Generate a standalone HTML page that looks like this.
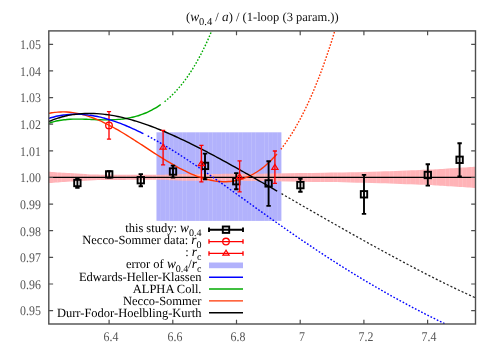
<!DOCTYPE html>
<html><head><meta charset="utf-8"><title>plot</title>
<style>
html,body{margin:0;padding:0;background:#fff;}
body{width:498px;height:349px;position:relative;overflow:hidden;font-family:"Liberation Serif",serif;}
.tx{position:absolute;left:0;top:0;width:498px;height:349px;will-change:transform;text-rendering:geometricPrecision;}
.yl{position:absolute;left:0;width:40.9px;text-align:right;font-size:13.2px;line-height:14px;color:#555;transform:matrix(0.9,0.0004,0,1,0,0);transform-origin:100% 50%;}
.xl{position:absolute;top:329.7px;width:40px;text-align:center;font-size:13.2px;line-height:14px;color:#555;transform:matrix(0.9,0.0004,0,1,0,0);transform-origin:50% 50%;}
.lg{position:absolute;left:0;width:201.5px;text-align:right;font-size:12.5px;line-height:14px;color:#000;white-space:nowrap;transform:matrix(1,0.0003,0,1,0,0);transform-origin:100% 50%;}
.lg sub,.ti sub{font-size:10px;vertical-align:baseline;position:relative;top:3.5px;}
.lg i,.ti i{font-size:13.4px;}
.ti sub{font-size:10.5px;}
.ti{position:absolute;left:186.3px;top:9.3px;font-size:12.5px;line-height:16px;color:#111;white-space:nowrap;transform:matrix(1,0.0003,0,1,0,0);transform-origin:0% 50%;}
</style></head><body>
<svg width="498" height="349" viewBox="0 0 498 349" style="position:absolute;left:0;top:0">
<defs><clipPath id="cp"><rect x="48.8" y="30.9" width="426.7" height="293.1"/></clipPath></defs>
<rect width="498" height="349" fill="#fff"/>
<g clip-path="url(#cp)">
<rect x="156.4" y="132.3" width="125.0" height="88.6" fill="#b2b2fc"/>
<path d="M48.80,171.70 C51.33,171.88 59.30,172.51 64.00,172.80 C68.70,173.09 72.00,173.16 77.00,173.45 C82.00,173.74 88.83,174.34 94.00,174.55 C99.17,174.76 102.83,174.69 108.00,174.73 C113.17,174.77 117.33,174.78 125.00,174.80 C132.67,174.82 146.50,174.89 154.00,174.85 C161.50,174.81 164.33,174.68 170.00,174.55 C175.67,174.42 180.50,174.16 188.00,174.05 C195.50,173.94 204.67,173.95 215.00,173.90 C225.33,173.85 240.00,173.82 250.00,173.75 C260.00,173.68 266.67,173.62 275.00,173.50 C283.33,173.38 291.67,173.17 300.00,173.05 C308.33,172.92 316.67,172.88 325.00,172.75 C333.33,172.62 340.83,172.52 350.00,172.30 C359.17,172.07 368.33,171.80 380.00,171.40 C391.67,171.00 410.67,170.27 420.00,169.90 C429.33,169.53 426.75,169.74 436.00,169.20 C445.25,168.66 468.92,167.07 475.50,166.65 L475.50,188.05 C468.92,187.62 445.25,186.04 436.00,185.50 C426.75,184.96 429.33,185.17 420.00,184.80 C410.67,184.43 391.67,183.70 380.00,183.30 C368.33,182.90 359.17,182.62 350.00,182.40 C340.83,182.18 333.33,182.07 325.00,181.95 C316.67,181.82 308.33,181.78 300.00,181.65 C291.67,181.53 283.33,181.32 275.00,181.20 C266.67,181.08 260.00,181.02 250.00,180.95 C240.00,180.88 225.33,180.85 215.00,180.80 C204.67,180.75 195.50,180.76 188.00,180.65 C180.50,180.54 175.67,180.28 170.00,180.15 C164.33,180.02 161.50,179.89 154.00,179.85 C146.50,179.81 132.67,179.88 125.00,179.90 C117.33,179.92 113.17,179.93 108.00,179.97 C102.83,180.01 99.17,179.94 94.00,180.15 C88.83,180.36 82.00,180.96 77.00,181.25 C72.00,181.54 68.70,181.61 64.00,181.90 C59.30,182.19 51.33,182.82 48.80,183.00 Z" fill="#ffb0b4" fill-opacity="0.96"/>
<path d="M53.5,172.01 V182.69 " fill="none" stroke="#fff" stroke-opacity="0.054" stroke-width="1"/>
<path d="M57.5,172.32 V182.38 " fill="none" stroke="#fff" stroke-opacity="0.134" stroke-width="1"/>
<path d="M61.5,172.64 V182.06 " fill="none" stroke="#fff" stroke-opacity="0.108" stroke-width="1"/>
<path d="M66.5,172.90 V181.80 " fill="none" stroke="#fff" stroke-opacity="0.021" stroke-width="1"/>
<path d="M70.5,173.12 V181.58 " fill="none" stroke="#fff" stroke-opacity="0.125" stroke-width="1"/>
<path d="M74.5,173.33 V181.37 " fill="none" stroke="#fff" stroke-opacity="0.123" stroke-width="1"/>
<path d="M83.5,173.86 V180.84 " fill="none" stroke="#fff" stroke-opacity="0.111" stroke-width="1"/>
<path d="M87.5,174.14 V180.56 " fill="none" stroke="#fff" stroke-opacity="0.133" stroke-width="1"/>
<path d="M91.5,174.41 V180.29 " fill="none" stroke="#fff" stroke-opacity="0.049" stroke-width="1"/>
<path d="M96.5,174.58 V180.12 " fill="none" stroke="#fff" stroke-opacity="0.092" stroke-width="1"/>
<path d="M100.5,174.63 V180.07 " fill="none" stroke="#fff" stroke-opacity="0.137" stroke-width="1"/>
<path d="M104.5,174.69 V180.01 " fill="none" stroke="#fff" stroke-opacity="0.077" stroke-width="1"/>
<path d="M109.5,174.73 V179.97 " fill="none" stroke="#fff" stroke-opacity="0.067" stroke-width="1"/>
<path d="M113.5,174.75 V179.95 " fill="none" stroke="#fff" stroke-opacity="0.136" stroke-width="1"/>
<path d="M117.5,174.77 V179.93 " fill="none" stroke="#fff" stroke-opacity="0.100" stroke-width="1"/>
<path d="M122.5,174.79 V179.91 " fill="none" stroke="#fff" stroke-opacity="0.037" stroke-width="1"/>
<path d="M126.5,174.80 V179.90 " fill="none" stroke="#fff" stroke-opacity="0.130" stroke-width="1"/>
<path d="M130.5,174.81 V179.89 " fill="none" stroke="#fff" stroke-opacity="0.117" stroke-width="1"/>
<path d="M139.5,174.82 V179.88 " fill="none" stroke="#fff" stroke-opacity="0.118" stroke-width="1"/>
<path d="M143.5,174.83 V179.87 " fill="none" stroke="#fff" stroke-opacity="0.129" stroke-width="1"/>
<path d="M147.5,174.84 V179.86 " fill="none" stroke="#fff" stroke-opacity="0.035" stroke-width="1"/>
<path d="M152.5,174.85 V179.85 " fill="none" stroke="#fff" stroke-opacity="0.101" stroke-width="1"/>
<path d="M156.5,174.80 V179.90 M156.5,132.30 V220.90 " fill="none" stroke="#fff" stroke-opacity="0.136" stroke-width="1"/>
<path d="M160.5,174.72 V179.98 M160.5,132.30 V220.90 " fill="none" stroke="#fff" stroke-opacity="0.065" stroke-width="1"/>
<path d="M165.5,174.64 V180.06 M165.5,132.30 V220.90 " fill="none" stroke="#fff" stroke-opacity="0.079" stroke-width="1"/>
<path d="M169.5,174.56 V180.14 M169.5,132.30 V220.90 " fill="none" stroke="#fff" stroke-opacity="0.137" stroke-width="1"/>
<path d="M173.5,174.44 V180.26 M173.5,132.30 V220.90 " fill="none" stroke="#fff" stroke-opacity="0.090" stroke-width="1"/>
<path d="M178.5,174.32 V180.38 M178.5,132.30 V220.90 " fill="none" stroke="#fff" stroke-opacity="0.051" stroke-width="1"/>
<path d="M182.5,174.21 V180.49 M182.5,132.30 V220.90 " fill="none" stroke="#fff" stroke-opacity="0.133" stroke-width="1"/>
<path d="M186.5,174.09 V180.61 M186.5,132.30 V220.90 " fill="none" stroke="#fff" stroke-opacity="0.110" stroke-width="1"/>
<path d="M195.5,174.01 V180.69 M195.5,132.30 V220.90 " fill="none" stroke="#fff" stroke-opacity="0.124" stroke-width="1"/>
<path d="M199.5,173.99 V180.71 M199.5,132.30 V220.90 " fill="none" stroke="#fff" stroke-opacity="0.125" stroke-width="1"/>
<path d="M208.5,173.94 V180.76 M208.5,132.30 V220.90 " fill="none" stroke="#fff" stroke-opacity="0.109" stroke-width="1"/>
<path d="M212.5,173.91 V180.79 M212.5,132.30 V220.90 " fill="none" stroke="#fff" stroke-opacity="0.134" stroke-width="1"/>
<path d="M216.5,173.89 V180.81 M216.5,132.30 V220.90 " fill="none" stroke="#fff" stroke-opacity="0.052" stroke-width="1"/>
<path d="M221.5,173.87 V180.83 M221.5,132.30 V220.90 " fill="none" stroke="#fff" stroke-opacity="0.089" stroke-width="1"/>
<path d="M225.5,173.85 V180.85 M225.5,132.30 V220.90 " fill="none" stroke="#fff" stroke-opacity="0.137" stroke-width="1"/>
<path d="M229.5,173.84 V180.86 M229.5,132.30 V220.90 " fill="none" stroke="#fff" stroke-opacity="0.080" stroke-width="1"/>
<path d="M234.5,173.82 V180.88 M234.5,132.30 V220.90 " fill="none" stroke="#fff" stroke-opacity="0.064" stroke-width="1"/>
<path d="M238.5,173.80 V180.90 M238.5,132.30 V220.90 " fill="none" stroke="#fff" stroke-opacity="0.136" stroke-width="1"/>
<path d="M242.5,173.78 V180.92 M242.5,132.30 V220.90 " fill="none" stroke="#fff" stroke-opacity="0.102" stroke-width="1"/>
<path d="M247.5,173.76 V180.94 M247.5,132.30 V220.90 " fill="none" stroke="#fff" stroke-opacity="0.033" stroke-width="1"/>
<path d="M251.5,173.74 V180.96 M251.5,132.30 V220.90 " fill="none" stroke="#fff" stroke-opacity="0.129" stroke-width="1"/>
<path d="M255.5,173.69 V181.01 M255.5,132.30 V220.90 " fill="none" stroke="#fff" stroke-opacity="0.119" stroke-width="1"/>
<path d="M264.5,173.61 V181.09 M264.5,132.30 V220.90 " fill="none" stroke="#fff" stroke-opacity="0.117" stroke-width="1"/>
<path d="M268.5,173.56 V181.14 M268.5,132.30 V220.90 " fill="none" stroke="#fff" stroke-opacity="0.130" stroke-width="1"/>
<path d="M272.5,173.52 V181.18 M272.5,132.30 V220.90 " fill="none" stroke="#fff" stroke-opacity="0.038" stroke-width="1"/>
<path d="M277.5,173.46 V181.24 M277.5,132.30 V220.90 " fill="none" stroke="#fff" stroke-opacity="0.099" stroke-width="1"/>
<path d="M281.5,173.38 V181.32 " fill="none" stroke="#fff" stroke-opacity="0.136" stroke-width="1"/>
<path d="M285.5,173.30 V181.40 " fill="none" stroke="#fff" stroke-opacity="0.068" stroke-width="1"/>
<path d="M290.5,173.23 V181.47 " fill="none" stroke="#fff" stroke-opacity="0.076" stroke-width="1"/>
<path d="M294.5,173.15 V181.55 " fill="none" stroke="#fff" stroke-opacity="0.137" stroke-width="1"/>
<path d="M298.5,173.07 V181.63 " fill="none" stroke="#fff" stroke-opacity="0.093" stroke-width="1"/>
<path d="M303.5,173.01 V181.69 " fill="none" stroke="#fff" stroke-opacity="0.048" stroke-width="1"/>
<path d="M307.5,172.96 V181.74 " fill="none" stroke="#fff" stroke-opacity="0.133" stroke-width="1"/>
<path d="M311.5,172.91 V181.79 " fill="none" stroke="#fff" stroke-opacity="0.112" stroke-width="1"/>
<path d="M320.5,172.81 V181.89 " fill="none" stroke="#fff" stroke-opacity="0.123" stroke-width="1"/>
<path d="M324.5,172.75 V181.95 " fill="none" stroke="#fff" stroke-opacity="0.126" stroke-width="1"/>
<path d="M328.5,172.68 V182.02 " fill="none" stroke="#fff" stroke-opacity="0.023" stroke-width="1"/>
<path d="M333.5,172.60 V182.10 " fill="none" stroke="#fff" stroke-opacity="0.108" stroke-width="1"/>
<path d="M337.5,172.52 V182.18 " fill="none" stroke="#fff" stroke-opacity="0.134" stroke-width="1"/>
<path d="M341.5,172.45 V182.25 " fill="none" stroke="#fff" stroke-opacity="0.055" stroke-width="1"/>
<path d="M346.5,172.37 V182.33 " fill="none" stroke="#fff" stroke-opacity="0.087" stroke-width="1"/>
<path d="M350.5,172.28 V182.42 " fill="none" stroke="#fff" stroke-opacity="0.137" stroke-width="1"/>
<path d="M354.5,172.16 V182.54 " fill="none" stroke="#fff" stroke-opacity="0.082" stroke-width="1"/>
<path d="M359.5,172.03 V182.67 " fill="none" stroke="#fff" stroke-opacity="0.061" stroke-width="1"/>
<path d="M363.5,171.90 V182.80 " fill="none" stroke="#fff" stroke-opacity="0.135" stroke-width="1"/>
<path d="M367.5,171.77 V182.93 " fill="none" stroke="#fff" stroke-opacity="0.104" stroke-width="1"/>
<path d="M372.5,171.64 V183.06 " fill="none" stroke="#fff" stroke-opacity="0.030" stroke-width="1"/>
<path d="M376.5,171.51 V183.19 " fill="none" stroke="#fff" stroke-opacity="0.128" stroke-width="1"/>
<path d="M380.5,171.37 V183.33 " fill="none" stroke="#fff" stroke-opacity="0.120" stroke-width="1"/>
<path d="M389.5,171.05 V183.65 " fill="none" stroke="#fff" stroke-opacity="0.115" stroke-width="1"/>
<path d="M393.5,170.89 V183.81 " fill="none" stroke="#fff" stroke-opacity="0.131" stroke-width="1"/>
<path d="M397.5,170.73 V183.97 " fill="none" stroke="#fff" stroke-opacity="0.041" stroke-width="1"/>
<path d="M402.5,170.57 V184.13 " fill="none" stroke="#fff" stroke-opacity="0.097" stroke-width="1"/>
<path d="M406.5,170.40 V184.30 " fill="none" stroke="#fff" stroke-opacity="0.137" stroke-width="1"/>
<path d="M410.5,170.24 V184.46 " fill="none" stroke="#fff" stroke-opacity="0.071" stroke-width="1"/>
<path d="M415.5,170.08 V184.62 " fill="none" stroke="#fff" stroke-opacity="0.073" stroke-width="1"/>
<path d="M419.5,169.92 V184.78 " fill="none" stroke="#fff" stroke-opacity="0.137" stroke-width="1"/>
<path d="M423.5,169.73 V184.97 " fill="none" stroke="#fff" stroke-opacity="0.095" stroke-width="1"/>
<path d="M428.5,169.55 V185.15 " fill="none" stroke="#fff" stroke-opacity="0.045" stroke-width="1"/>
<path d="M432.5,169.36 V185.34 " fill="none" stroke="#fff" stroke-opacity="0.132" stroke-width="1"/>
<path d="M436.5,169.15 V185.55 " fill="none" stroke="#fff" stroke-opacity="0.113" stroke-width="1"/>
<path d="M445.5,168.60 V186.10 " fill="none" stroke="#fff" stroke-opacity="0.121" stroke-width="1"/>
<path d="M449.5,168.32 V186.38 " fill="none" stroke="#fff" stroke-opacity="0.127" stroke-width="1"/>
<path d="M453.5,168.04 V186.66 " fill="none" stroke="#fff" stroke-opacity="0.026" stroke-width="1"/>
<path d="M458.5,167.76 V186.94 " fill="none" stroke="#fff" stroke-opacity="0.106" stroke-width="1"/>
<path d="M462.5,167.48 V187.22 " fill="none" stroke="#fff" stroke-opacity="0.135" stroke-width="1"/>
<path d="M466.5,167.21 V187.49 " fill="none" stroke="#fff" stroke-opacity="0.058" stroke-width="1"/>
<path d="M471.5,166.93 V187.77 " fill="none" stroke="#fff" stroke-opacity="0.085" stroke-width="1"/>
<line x1="48.8" y1="177.35" x2="475.5" y2="177.35" stroke="#000" stroke-width="1.4"/>
<path d="M109.00,111.60 V139.10 M106.90,111.60 H111.10 M106.90,139.10 H111.10" fill="none" stroke="#ff0000" stroke-width="1.35"/>
<circle cx="109.00" cy="125.40" r="3.30" fill="none" stroke="#ff0000" stroke-width="1.30"/>
<path d="M48.80,123.33 C49.30,123.16 50.82,122.61 51.83,122.29 C52.84,121.97 53.85,121.69 54.85,121.43 C55.86,121.17 56.87,120.95 57.88,120.74 C58.89,120.53 59.90,120.35 60.91,120.19 C61.92,120.03 62.93,119.89 63.94,119.77 C64.94,119.65 65.95,119.55 66.96,119.47 C67.97,119.38 68.98,119.32 69.99,119.26 C71.00,119.21 72.01,119.17 73.02,119.14 C74.03,119.11 75.03,119.10 76.04,119.09 C77.05,119.08 78.06,119.09 79.07,119.10 C80.08,119.11 81.09,119.13 82.10,119.15 C83.11,119.17 84.12,119.20 85.12,119.23 C86.13,119.27 87.14,119.30 88.15,119.34 C89.16,119.38 90.17,119.42 91.18,119.46 C92.19,119.50 93.20,119.54 94.21,119.58 C95.21,119.61 96.22,119.65 97.23,119.68 C98.24,119.72 99.25,119.75 100.26,119.77 C101.27,119.80 102.28,119.82 103.29,119.83 C104.30,119.85 105.30,119.86 106.31,119.86 C107.32,119.86 108.33,119.85 109.34,119.83 C110.35,119.82 111.36,119.79 112.37,119.76 C113.38,119.72 114.39,119.67 115.39,119.61 C116.40,119.56 117.41,119.49 118.42,119.40 C119.43,119.32 120.44,119.22 121.45,119.11 C122.46,119.00 123.47,118.87 124.48,118.73 C125.48,118.59 126.49,118.43 127.50,118.26 C128.51,118.08 129.52,117.89 130.53,117.68 C131.54,117.47 132.55,117.25 133.56,117.00 C134.57,116.75 135.57,116.48 136.58,116.19 C137.59,115.90 138.60,115.60 139.61,115.26 C140.62,114.93 141.63,114.58 142.64,114.20 C143.65,113.82 144.66,113.42 145.66,112.99 C146.67,112.56 147.68,112.11 148.69,111.63 C149.70,111.16 150.71,110.65 151.72,110.12 C152.73,109.58 153.74,109.02 154.75,108.43 C155.75,107.84 156.76,107.22 157.77,106.57 C158.78,105.92 160.30,104.86 160.80,104.52" fill="none" stroke="#00aa00" stroke-width="1.40"/>
<path d="M164.60,101.67 C164.85,101.46 165.61,100.86 166.11,100.44 C166.62,100.03 167.12,99.60 167.62,99.16 C168.13,98.73 168.63,98.28 169.14,97.83 C169.64,97.37 170.15,96.91 170.65,96.44 C171.15,95.96 171.66,95.48 172.16,94.99 C172.67,94.50 173.17,93.99 173.67,93.48 C174.18,92.97 174.68,92.45 175.19,91.91 C175.69,91.38 176.20,90.84 176.70,90.28 C177.20,89.73 177.71,89.16 178.21,88.59 C178.72,88.01 179.22,87.42 179.72,86.83 C180.23,86.23 180.73,85.62 181.24,85.00 C181.74,84.38 182.25,83.75 182.75,83.10 C183.25,82.46 183.76,81.80 184.26,81.14 C184.77,80.47 185.27,79.79 185.78,79.10 C186.28,78.40 186.78,77.70 187.29,76.98 C187.79,76.27 188.30,75.54 188.80,74.79 C189.30,74.05 189.81,73.30 190.31,72.53 C190.82,71.76 191.32,70.98 191.82,70.18 C192.33,69.39 192.83,68.58 193.34,67.75 C193.84,66.93 194.35,66.09 194.85,65.24 C195.35,64.39 195.86,63.53 196.36,62.65 C196.87,61.77 197.37,60.87 197.88,59.96 C198.38,59.05 198.88,58.13 199.39,57.19 C199.89,56.25 200.40,55.29 200.90,54.32 C201.40,53.35 201.91,52.36 202.41,51.36 C202.92,50.35 203.42,49.34 203.93,48.30 C204.43,47.26 204.93,46.21 205.44,45.14 C205.94,44.07 206.45,42.99 206.95,41.88 C207.45,40.78 207.96,39.66 208.46,38.52 C208.97,37.38 209.47,36.22 209.97,35.05 C210.48,33.87 210.98,32.68 211.49,31.47 C211.99,30.26 212.75,28.39 213.00,27.78" fill="none" stroke="#00aa00" stroke-width="1.40" stroke-dasharray="1.6 1.7"/>
<path d="M48.80,113.32 C49.30,113.23 50.80,112.93 51.80,112.77 C52.80,112.61 53.80,112.48 54.81,112.36 C55.81,112.24 56.81,112.15 57.81,112.08 C58.81,112.01 59.81,111.96 60.81,111.93 C61.81,111.91 62.81,111.90 63.81,111.92 C64.81,111.93 65.81,111.97 66.82,112.03 C67.82,112.09 68.82,112.16 69.82,112.26 C70.82,112.36 71.82,112.48 72.82,112.62 C73.82,112.76 74.82,112.92 75.82,113.10 C76.82,113.27 77.83,113.47 78.83,113.69 C79.83,113.90 80.83,114.14 81.83,114.39 C82.83,114.64 83.83,114.91 84.83,115.20 C85.83,115.49 86.83,115.79 87.83,116.11 C88.84,116.43 89.84,116.77 90.84,117.13 C91.84,117.48 92.84,117.85 93.84,118.23 C94.84,118.62 95.84,119.02 96.84,119.43 C97.84,119.85 98.84,120.28 99.84,120.72 C100.85,121.16 101.85,121.62 102.85,122.09 C103.85,122.56 104.85,123.04 105.85,123.53 C106.85,124.03 107.85,124.53 108.85,125.05 C109.85,125.56 110.85,126.09 111.86,126.63 C112.86,127.17 113.86,127.72 114.86,128.27 C115.86,128.83 116.86,129.40 117.86,129.98 C118.86,130.55 119.86,131.14 120.86,131.73 C121.86,132.32 122.86,132.92 123.87,133.52 C124.87,134.13 125.87,134.74 126.87,135.36 C127.87,135.98 128.87,136.60 129.87,137.23 C130.87,137.86 131.87,138.50 132.87,139.14 C133.87,139.77 134.88,140.42 135.88,141.06 C136.88,141.70 137.88,142.35 138.88,143.00 C139.88,143.65 140.88,144.31 141.88,144.96 C142.88,145.61 143.88,146.27 144.88,146.92 C145.89,147.58 146.89,148.23 147.89,148.88 C148.89,149.54 149.89,150.19 150.89,150.84 C151.89,151.49 152.89,152.14 153.89,152.79 C154.89,153.44 155.89,154.08 156.89,154.72 C157.90,155.36 158.90,156.00 159.90,156.63 C160.90,157.27 161.90,157.89 162.90,158.52 C163.90,159.14 164.90,159.76 165.90,160.37 C166.90,160.98 167.90,161.58 168.91,162.18 C169.91,162.77 170.91,163.36 171.91,163.94 C172.91,164.52 173.91,165.10 174.91,165.66 C175.91,166.22 176.91,166.78 177.91,167.32 C178.91,167.86 179.91,168.40 180.92,168.92 C181.92,169.44 182.92,169.95 183.92,170.45 C184.92,170.95 185.92,171.43 186.92,171.91 C187.92,172.38 188.92,172.84 189.92,173.29 C190.92,173.73 191.93,174.17 192.93,174.58 C193.93,175.00 194.93,175.40 195.93,175.79 C196.93,176.17 197.93,176.55 198.93,176.90 C199.93,177.25 200.93,177.59 201.93,177.91 C202.94,178.23 203.94,178.53 204.94,178.81 C205.94,179.09 206.94,179.36 207.94,179.60 C208.94,179.85 209.94,180.07 210.94,180.28 C211.94,180.48 212.94,180.67 213.94,180.83 C214.95,180.99 215.95,181.13 216.95,181.25 C217.95,181.37 218.95,181.47 219.95,181.54 C220.95,181.61 221.95,181.66 222.95,181.69 C223.95,181.71 224.95,181.71 225.96,181.69 C226.96,181.67 227.96,181.62 228.96,181.54 C229.96,181.47 230.96,181.37 231.96,181.24 C232.96,181.11 233.96,180.96 234.96,180.77 C235.96,180.59 236.96,180.38 237.97,180.14 C238.97,179.90 239.97,179.63 240.97,179.33 C241.97,179.03 242.97,178.71 243.97,178.35 C244.97,177.99 245.97,177.60 246.97,177.18 C247.97,176.75 248.98,176.30 249.98,175.81 C250.98,175.33 251.98,174.81 252.98,174.26 C253.98,173.70 254.98,173.12 255.98,172.50 C256.98,171.87 257.98,171.22 258.98,170.53 C259.99,169.84 260.99,169.11 261.99,168.34 C262.99,167.58 263.99,166.78 264.99,165.94 C265.99,165.10 266.99,164.23 267.99,163.31 C268.99,162.39 269.99,161.44 270.99,160.45 C272.00,159.45 273.00,158.42 274.00,157.34 C275.00,156.27 276.50,154.55 277.00,153.99" fill="none" stroke="#ff3300" stroke-width="1.40"/>
<path d="M280.90,149.26 C281.15,148.94 281.89,147.99 282.39,147.34 C282.89,146.68 283.38,146.02 283.88,145.35 C284.37,144.67 284.87,143.99 285.37,143.29 C285.86,142.60 286.36,141.89 286.86,141.17 C287.35,140.45 287.85,139.72 288.35,138.98 C288.84,138.24 289.34,137.49 289.84,136.73 C290.33,135.96 290.83,135.18 291.32,134.40 C291.82,133.61 292.32,132.81 292.81,132.00 C293.31,131.19 293.81,130.36 294.30,129.53 C294.80,128.69 295.30,127.84 295.79,126.98 C296.29,126.12 296.78,125.25 297.28,124.37 C297.78,123.48 298.27,122.58 298.77,121.67 C299.27,120.76 299.76,119.84 300.26,118.91 C300.76,117.97 301.25,117.02 301.75,116.06 C302.25,115.10 302.74,114.13 303.24,113.14 C303.73,112.15 304.23,111.15 304.73,110.14 C305.22,109.13 305.72,108.10 306.22,107.06 C306.71,106.02 307.21,104.97 307.71,103.90 C308.20,102.83 308.70,101.75 309.19,100.66 C309.69,99.56 310.19,98.45 310.68,97.33 C311.18,96.21 311.68,95.07 312.17,93.92 C312.67,92.77 313.17,91.60 313.66,90.42 C314.16,89.24 314.65,88.05 315.15,86.84 C315.65,85.63 316.14,84.41 316.64,83.17 C317.14,81.93 317.63,80.68 318.13,79.41 C318.63,78.15 319.12,76.86 319.62,75.57 C320.12,74.27 320.61,72.96 321.11,71.63 C321.60,70.30 322.10,68.95 322.60,67.59 C323.09,66.24 323.59,64.86 324.09,63.47 C324.58,62.08 325.08,60.67 325.58,59.25 C326.07,57.83 326.57,56.39 327.06,54.93 C327.56,53.48 328.06,52.00 328.55,50.52 C329.05,49.03 329.55,47.52 330.04,46.00 C330.54,44.48 331.04,42.94 331.53,41.39 C332.03,39.83 332.53,38.26 333.02,36.67 C333.52,35.08 334.01,33.48 334.51,31.85 C335.01,30.23 335.75,27.75 336.00,26.93" fill="none" stroke="#ff3300" stroke-width="1.40" stroke-dasharray="1.6 1.6"/>
<path d="M48.80,118.40 C49.29,118.25 50.77,117.78 51.76,117.50 C52.74,117.22 53.73,116.96 54.71,116.71 C55.70,116.47 56.68,116.25 57.67,116.04 C58.65,115.84 59.64,115.65 60.62,115.48 C61.61,115.31 62.60,115.16 63.58,115.03 C64.57,114.89 65.55,114.78 66.54,114.68 C67.52,114.58 68.51,114.50 69.49,114.43 C70.48,114.36 71.46,114.31 72.45,114.28 C73.44,114.25 74.42,114.23 75.41,114.23 C76.39,114.22 77.38,114.24 78.36,114.27 C79.35,114.29 80.33,114.34 81.32,114.39 C82.30,114.45 83.29,114.53 84.28,114.61 C85.26,114.70 86.25,114.80 87.23,114.92 C88.22,115.03 89.20,115.16 90.19,115.30 C91.17,115.44 92.16,115.60 93.14,115.77 C94.13,115.93 95.11,116.12 96.10,116.31 C97.09,116.50 98.07,116.71 99.06,116.93 C100.04,117.15 101.03,117.38 102.01,117.62 C103.00,117.86 103.98,118.12 104.97,118.38 C105.95,118.65 106.94,118.92 107.93,119.21 C108.91,119.50 109.90,119.80 110.88,120.11 C111.87,120.42 112.85,120.74 113.84,121.07 C114.82,121.40 115.81,121.74 116.79,122.09 C117.78,122.44 118.76,122.80 119.75,123.17 C120.74,123.54 121.72,123.92 122.71,124.31 C123.69,124.69 124.68,125.09 125.66,125.50 C126.65,125.90 127.63,126.32 128.62,126.74 C129.60,127.17 130.59,127.60 131.57,128.04 C132.56,128.48 133.55,128.93 134.53,129.39 C135.52,129.84 136.50,130.31 137.49,130.78 C138.47,131.25 139.46,131.73 140.44,132.22 C141.43,132.71 142.91,133.46 143.40,133.70" fill="none" stroke="#0000ff" stroke-width="1.40"/>
<path d="M147.70,135.93 C148.20,136.20 149.71,137.00 150.71,137.55 C151.72,138.09 152.72,138.64 153.73,139.20 C154.73,139.76 155.74,140.32 156.74,140.89 C157.74,141.46 158.75,142.03 159.75,142.61 C160.76,143.19 161.76,143.78 162.77,144.37 C163.77,144.96 164.77,145.56 165.78,146.16 C166.78,146.76 167.79,147.37 168.79,147.98 C169.80,148.60 170.80,149.21 171.81,149.83 C172.81,150.46 173.81,151.08 174.82,151.71 C175.82,152.34 176.83,152.98 177.83,153.62 C178.84,154.25 179.84,154.90 180.84,155.54 C181.85,156.19 182.85,156.84 183.86,157.50 C184.86,158.15 185.87,158.81 186.87,159.47 C187.88,160.13 188.88,160.79 189.88,161.46 C190.89,162.13 191.89,162.80 192.90,163.47 C193.90,164.15 194.91,164.82 195.91,165.50 C196.91,166.18 197.92,166.86 198.92,167.55 C199.93,168.23 200.93,168.92 201.94,169.61 C202.94,170.30 203.95,170.99 204.95,171.68 C205.95,172.38 206.96,173.07 207.96,173.77 C208.97,174.47 209.97,175.17 210.98,175.87 C211.98,176.57 212.98,177.28 213.99,177.98 C214.99,178.69 216.00,179.39 217.00,180.10 C218.01,180.81 219.01,181.52 220.02,182.23 C221.02,182.94 222.02,183.65 223.03,184.36 C224.03,185.08 225.04,185.79 226.04,186.50 C227.05,187.22 228.05,187.94 229.05,188.65 C230.06,189.37 231.06,190.09 232.07,190.80 C233.07,191.52 234.08,192.24 235.08,192.96 C236.09,193.68 237.09,194.40 238.09,195.12 C239.10,195.84 240.10,196.56 241.11,197.28 C242.11,198.00 243.12,198.72 244.12,199.44 C245.12,200.16 246.13,200.88 247.13,201.60 C248.14,202.32 249.14,203.04 250.15,203.76 C251.15,204.48 252.16,205.20 253.16,205.92 C254.16,206.64 255.17,207.36 256.17,208.08 C257.18,208.79 258.18,209.51 259.19,210.23 C260.19,210.95 261.19,211.67 262.20,212.38 C263.20,213.10 264.21,213.82 265.21,214.53 C266.22,215.25 267.22,215.96 268.23,216.67 C269.23,217.39 270.23,218.10 271.24,218.81 C272.24,219.52 273.25,220.24 274.25,220.95 C275.26,221.66 276.26,222.36 277.26,223.07 C278.27,223.78 279.27,224.49 280.28,225.19 C281.28,225.90 282.29,226.60 283.29,227.31 C284.30,228.01 285.30,228.71 286.30,229.41 C287.31,230.11 288.31,230.81 289.32,231.51 C290.32,232.21 291.33,232.90 292.33,233.60 C293.33,234.29 294.34,234.99 295.34,235.68 C296.35,236.37 297.35,237.06 298.36,237.75 C299.36,238.44 300.37,239.12 301.37,239.81 C302.37,240.50 303.38,241.18 304.38,241.86 C305.39,242.54 306.39,243.22 307.40,243.90 C308.40,244.58 309.40,245.26 310.41,245.93 C311.41,246.61 312.42,247.28 313.42,247.95 C314.43,248.62 315.43,249.29 316.44,249.96 C317.44,250.63 318.44,251.29 319.45,251.96 C320.45,252.62 321.46,253.28 322.46,253.94 C323.47,254.60 324.47,255.26 325.47,255.92 C326.48,256.57 327.48,257.23 328.49,257.88 C329.49,258.53 330.50,259.18 331.50,259.83 C332.51,260.47 333.51,261.12 334.51,261.76 C335.52,262.41 336.52,263.05 337.53,263.69 C338.53,264.33 339.54,264.96 340.54,265.60 C341.54,266.23 342.55,266.87 343.55,267.50 C344.56,268.13 345.56,268.76 346.57,269.38 C347.57,270.01 348.58,270.63 349.58,271.26 C350.58,271.88 351.59,272.50 352.59,273.12 C353.60,273.73 354.60,274.35 355.61,274.96 C356.61,275.58 357.61,276.19 358.62,276.80 C359.62,277.41 360.63,278.01 361.63,278.62 C362.64,279.22 363.64,279.82 364.65,280.42 C365.65,281.02 366.65,281.62 367.66,282.22 C368.66,282.81 369.67,283.41 370.67,284.00 C371.68,284.59 372.68,285.18 373.68,285.76 C374.69,286.35 375.69,286.94 376.70,287.52 C377.70,288.10 378.71,288.68 379.71,289.26 C380.72,289.84 381.72,290.41 382.72,290.99 C383.73,291.56 384.73,292.13 385.74,292.70 C386.74,293.27 387.75,293.83 388.75,294.40 C389.75,294.96 390.76,295.53 391.76,296.09 C392.77,296.65 393.77,297.21 394.78,297.76 C395.78,298.32 396.79,298.87 397.79,299.42 C398.79,299.98 399.80,300.52 400.80,301.07 C401.81,301.62 402.81,302.17 403.82,302.71 C404.82,303.25 405.82,303.79 406.83,304.33 C407.83,304.87 408.84,305.41 409.84,305.94 C410.85,306.48 411.85,307.01 412.86,307.54 C413.86,308.07 414.86,308.60 415.87,309.13 C416.87,309.65 417.88,310.18 418.88,310.70 C419.89,311.22 420.89,311.74 421.89,312.26 C422.90,312.78 423.90,313.30 424.91,313.81 C425.91,314.33 426.92,314.84 427.92,315.35 C428.93,315.86 429.93,316.37 430.93,316.88 C431.94,317.38 432.94,317.89 433.95,318.39 C434.95,318.89 435.96,319.39 436.96,319.89 C437.96,320.39 438.97,320.89 439.97,321.39 C440.98,321.88 441.98,322.37 442.99,322.87 C443.99,323.36 445.50,324.09 446.00,324.34" fill="none" stroke="#0000ff" stroke-width="1.40" stroke-dasharray="1.7 1.8"/>
<path d="M48.80,121.51 C49.30,121.30 50.80,120.67 51.81,120.28 C52.81,119.89 53.81,119.52 54.81,119.17 C55.81,118.82 56.81,118.48 57.82,118.17 C58.82,117.85 59.82,117.55 60.82,117.27 C61.82,116.99 62.82,116.72 63.83,116.47 C64.83,116.22 65.83,115.99 66.83,115.78 C67.83,115.56 68.84,115.36 69.84,115.17 C70.84,114.99 71.84,114.82 72.84,114.67 C73.84,114.51 74.85,114.38 75.85,114.25 C76.85,114.13 77.85,114.02 78.85,113.92 C79.85,113.83 80.86,113.75 81.86,113.68 C82.86,113.61 83.86,113.56 84.86,113.52 C85.86,113.48 86.87,113.45 87.87,113.44 C88.87,113.42 89.87,113.42 90.87,113.43 C91.88,113.45 92.88,113.47 93.88,113.51 C94.88,113.54 95.88,113.59 96.88,113.65 C97.89,113.71 98.89,113.78 99.89,113.87 C100.89,113.95 101.89,114.05 102.89,114.15 C103.90,114.26 104.90,114.37 105.90,114.50 C106.90,114.63 107.90,114.77 108.91,114.91 C109.91,115.06 110.91,115.22 111.91,115.39 C112.91,115.56 113.91,115.73 114.92,115.92 C115.92,116.11 116.92,116.31 117.92,116.51 C118.92,116.72 119.92,116.94 120.93,117.16 C121.93,117.38 122.93,117.62 123.93,117.86 C124.93,118.10 125.94,118.35 126.94,118.61 C127.94,118.87 128.94,119.14 129.94,119.41 C130.94,119.69 131.95,119.97 132.95,120.26 C133.95,120.55 134.95,120.85 135.95,121.16 C136.95,121.46 137.96,121.77 138.96,122.10 C139.96,122.42 140.96,122.74 141.96,123.08 C142.96,123.41 143.97,123.75 144.97,124.10 C145.97,124.45 146.97,124.80 147.97,125.16 C148.98,125.52 149.98,125.89 150.98,126.26 C151.98,126.63 152.98,127.01 153.98,127.40 C154.99,127.78 155.99,128.17 156.99,128.57 C157.99,128.96 158.99,129.36 159.99,129.77 C161.00,130.18 162.00,130.59 163.00,131.01 C164.00,131.42 165.00,131.84 166.01,132.27 C167.01,132.70 168.01,133.13 169.01,133.57 C170.01,134.00 171.01,134.44 172.02,134.89 C173.02,135.34 174.02,135.79 175.02,136.24 C176.02,136.69 177.02,137.15 178.03,137.61 C179.03,138.08 180.03,138.54 181.03,139.01 C182.03,139.48 183.04,139.96 184.04,140.44 C185.04,140.91 186.04,141.40 187.04,141.88 C188.04,142.37 189.05,142.85 190.05,143.35 C191.05,143.84 192.05,144.33 193.05,144.83 C194.05,145.33 195.06,145.83 196.06,146.34 C197.06,146.84 198.06,147.35 199.06,147.86 C200.06,148.37 201.07,148.88 202.07,149.40 C203.07,149.91 204.07,150.43 205.07,150.95 C206.08,151.47 207.08,151.99 208.08,152.52 C209.08,153.05 210.08,153.57 211.08,154.10 C212.09,154.63 213.09,155.17 214.09,155.70 C215.09,156.24 216.09,156.77 217.09,157.31 C218.10,157.85 219.10,158.39 220.10,158.93 C221.10,159.48 222.10,160.02 223.11,160.57 C224.11,161.11 225.11,161.66 226.11,162.21 C227.11,162.76 228.11,163.31 229.12,163.86 C230.12,164.42 231.12,164.97 232.12,165.52 C233.12,166.08 234.12,166.64 235.13,167.20 C236.13,167.75 237.13,168.31 238.13,168.87 C239.13,169.43 240.14,170.00 241.14,170.56 C242.14,171.12 243.14,171.68 244.14,172.25 C245.14,172.81 246.15,173.38 247.15,173.95 C248.15,174.51 249.15,175.08 250.15,175.65 C251.15,176.22 252.16,176.79 253.16,177.36 C254.16,177.93 255.16,178.50 256.16,179.07 C257.16,179.64 258.17,180.21 259.17,180.79 C260.17,181.36 261.17,181.93 262.17,182.51 C263.18,183.08 264.18,183.66 265.18,184.23 C266.18,184.81 267.18,185.38 268.18,185.96 C269.19,186.53 270.19,187.11 271.19,187.68 C272.19,188.26 273.19,188.84 274.19,189.41 C275.20,189.99 276.70,190.86 277.20,191.15" fill="none" stroke="#000" stroke-width="1.40"/>
<path d="M281.50,193.63 C282.00,193.91 283.49,194.77 284.48,195.35 C285.48,195.92 286.47,196.50 287.47,197.07 C288.46,197.65 289.46,198.22 290.45,198.79 C291.45,199.37 292.44,199.94 293.44,200.52 C294.43,201.09 295.43,201.67 296.42,202.24 C297.42,202.81 298.41,203.39 299.41,203.96 C300.40,204.54 301.40,205.11 302.39,205.68 C303.39,206.26 304.38,206.83 305.38,207.40 C306.37,207.98 307.37,208.55 308.36,209.12 C309.36,209.69 310.35,210.27 311.35,210.84 C312.34,211.41 313.34,211.98 314.33,212.55 C315.33,213.12 316.32,213.70 317.32,214.27 C318.31,214.84 319.31,215.41 320.30,215.98 C321.29,216.55 322.29,217.12 323.28,217.69 C324.28,218.26 325.27,218.82 326.27,219.39 C327.26,219.96 328.26,220.53 329.25,221.10 C330.25,221.66 331.24,222.23 332.24,222.80 C333.23,223.36 334.23,223.93 335.22,224.50 C336.22,225.06 337.21,225.63 338.21,226.19 C339.20,226.75 340.20,227.32 341.19,227.88 C342.19,228.45 343.18,229.01 344.18,229.57 C345.17,230.13 346.17,230.69 347.16,231.25 C348.16,231.82 349.15,232.38 350.15,232.94 C351.14,233.50 352.14,234.05 353.13,234.61 C354.13,235.17 355.12,235.73 356.12,236.29 C357.11,236.84 358.11,237.40 359.10,237.96 C360.09,238.51 361.09,239.07 362.08,239.62 C363.08,240.17 364.07,240.73 365.07,241.28 C366.06,241.83 367.06,242.39 368.05,242.94 C369.05,243.49 370.04,244.04 371.04,244.59 C372.03,245.14 373.03,245.69 374.02,246.23 C375.02,246.78 376.01,247.33 377.01,247.88 C378.00,248.42 379.00,248.97 379.99,249.51 C380.99,250.06 381.98,250.60 382.98,251.14 C383.97,251.68 384.97,252.23 385.96,252.77 C386.96,253.31 387.95,253.85 388.95,254.39 C389.94,254.93 390.94,255.46 391.93,256.00 C392.93,256.54 393.92,257.07 394.92,257.61 C395.91,258.14 396.91,258.68 397.90,259.21 C398.89,259.74 399.89,260.28 400.88,260.81 C401.88,261.34 402.87,261.87 403.87,262.39 C404.86,262.92 405.86,263.45 406.85,263.98 C407.85,264.50 408.84,265.03 409.84,265.55 C410.83,266.08 411.83,266.60 412.82,267.12 C413.82,267.64 414.81,268.16 415.81,268.68 C416.80,269.20 417.80,269.72 418.79,270.23 C419.79,270.75 420.78,271.26 421.78,271.78 C422.77,272.29 423.77,272.80 424.76,273.31 C425.76,273.82 426.75,274.33 427.75,274.84 C428.74,275.35 429.74,275.85 430.73,276.36 C431.73,276.86 432.72,277.36 433.72,277.87 C434.71,278.37 435.71,278.87 436.70,279.36 C437.69,279.86 438.69,280.36 439.68,280.85 C440.68,281.35 441.67,281.84 442.67,282.33 C443.66,282.82 444.66,283.31 445.65,283.80 C446.65,284.29 447.64,284.77 448.64,285.26 C449.63,285.74 450.63,286.22 451.62,286.70 C452.62,287.18 453.61,287.66 454.61,288.14 C455.60,288.61 456.60,289.08 457.59,289.56 C458.59,290.03 459.58,290.50 460.58,290.96 C461.57,291.43 462.57,291.90 463.56,292.36 C464.56,292.82 465.55,293.28 466.55,293.74 C467.54,294.20 468.54,294.65 469.53,295.10 C470.53,295.56 471.52,296.01 472.52,296.45 C473.51,296.90 475.00,297.57 475.50,297.79" fill="none" stroke="#222" stroke-width="1.25" stroke-dasharray="2.1 2.0"/>
<path d="M77.40,178.60 V187.70 M75.20,178.60 H79.60 M75.20,187.70 H79.60" fill="none" stroke="#000" stroke-width="1.90"/>
<rect x="74.20" y="179.80" width="6.40" height="6.40" fill="none" stroke="#000" stroke-width="1.90"/>
<path d="M109.20,171.20 V177.60 M107.00,171.20 H111.40 M107.00,177.60 H111.40" fill="none" stroke="#000" stroke-width="1.90"/>
<rect x="106.00" y="171.20" width="6.40" height="6.40" fill="none" stroke="#000" stroke-width="1.90"/>
<path d="M140.80,174.10 V186.20 M138.60,174.10 H143.00 M138.60,186.20 H143.00" fill="none" stroke="#000" stroke-width="1.90"/>
<rect x="137.60" y="177.00" width="6.40" height="6.40" fill="none" stroke="#000" stroke-width="1.90"/>
<path d="M173.00,165.60 V177.50 M170.80,165.60 H175.20 M170.80,177.50 H175.20" fill="none" stroke="#000" stroke-width="1.90"/>
<rect x="169.80" y="168.30" width="6.40" height="6.40" fill="none" stroke="#000" stroke-width="1.90"/>
<path d="M205.00,153.60 V179.20 M202.80,153.60 H207.20 M202.80,179.20 H207.20" fill="none" stroke="#000" stroke-width="1.90"/>
<rect x="201.80" y="162.70" width="6.40" height="6.40" fill="none" stroke="#000" stroke-width="1.90"/>
<path d="M236.30,173.10 V189.30 M234.10,173.10 H238.50 M234.10,189.30 H238.50" fill="none" stroke="#000" stroke-width="1.90"/>
<rect x="233.10" y="178.00" width="6.40" height="6.40" fill="none" stroke="#000" stroke-width="1.90"/>
<path d="M268.60,161.20 V205.90 M266.40,161.20 H270.80 M266.40,205.90 H270.80" fill="none" stroke="#000" stroke-width="1.90"/>
<rect x="265.40" y="180.20" width="6.40" height="6.40" fill="none" stroke="#000" stroke-width="1.90"/>
<path d="M300.40,178.80 V191.80 M298.20,178.80 H302.60 M298.20,191.80 H302.60" fill="none" stroke="#000" stroke-width="1.90"/>
<rect x="297.20" y="181.90" width="6.40" height="6.40" fill="none" stroke="#000" stroke-width="1.90"/>
<path d="M364.00,174.90 V213.90 M361.80,174.90 H366.20 M361.80,213.90 H366.20" fill="none" stroke="#000" stroke-width="1.90"/>
<rect x="360.80" y="191.10" width="6.40" height="6.40" fill="none" stroke="#000" stroke-width="1.90"/>
<path d="M427.80,164.20 V185.60 M425.60,164.20 H430.00 M425.60,185.60 H430.00" fill="none" stroke="#000" stroke-width="1.90"/>
<rect x="424.60" y="171.80" width="6.40" height="6.40" fill="none" stroke="#000" stroke-width="1.90"/>
<path d="M459.60,143.30 V176.40 M457.40,143.30 H461.80 M457.40,176.40 H461.80" fill="none" stroke="#000" stroke-width="1.90"/>
<rect x="456.40" y="156.60" width="6.40" height="6.40" fill="none" stroke="#000" stroke-width="1.90"/>
<path d="M163.10,130.40 V164.80 M161.00,130.40 H165.20 M161.00,164.80 H165.20" fill="none" stroke="#ff0000" stroke-width="1.35"/>
<path d="M163.10,144.20 L159.95,149.15 L166.25,149.15 Z" fill="none" stroke="#ff0000" stroke-width="1.15"/>
<path d="M201.40,145.40 V181.80 M199.30,145.40 H203.50 M199.30,181.80 H203.50" fill="none" stroke="#ff0000" stroke-width="1.35"/>
<path d="M201.40,160.60 L198.25,165.55 L204.55,165.55 Z" fill="none" stroke="#ff0000" stroke-width="1.15"/>
<path d="M239.60,160.90 V191.90 M237.50,160.90 H241.70 M237.50,191.90 H241.70" fill="none" stroke="#ff0000" stroke-width="1.35"/>
<path d="M239.60,173.70 L236.45,178.65 L242.75,178.65 Z" fill="none" stroke="#ff0000" stroke-width="1.15"/>
<path d="M274.90,151.00 V183.40 M272.80,151.00 H277.00 M272.80,183.40 H277.00" fill="none" stroke="#ff0000" stroke-width="1.35"/>
<path d="M274.90,164.40 L271.75,169.35 L278.05,169.35 Z" fill="none" stroke="#ff0000" stroke-width="1.15"/>
</g>
<path d="M209.0,229.70 H243.0 M209.0,227.50 V231.90 M243.0,227.50 V231.90" fill="none" stroke="#000" stroke-width="1.90"/>
<rect x="222.80" y="226.50" width="6.40" height="6.40" fill="none" stroke="#000" stroke-width="1.90"/>
<path d="M209.0,241.57 H243.0 M209.0,239.37 V243.77 M243.0,239.37 V243.77" fill="none" stroke="#ff0000" stroke-width="1.35"/>
<circle cx="226.00" cy="241.57" r="3.30" fill="none" stroke="#ff0000" stroke-width="1.30"/>
<path d="M209.0,253.44 H243.0 M209.0,251.24 V255.64 M243.0,251.24 V255.64" fill="none" stroke="#ff0000" stroke-width="1.35"/>
<path d="M226.00,250.19 L222.85,255.14 L229.15,255.14 Z" fill="none" stroke="#ff0000" stroke-width="1.15"/>
<rect x="209.0" y="262.51" width="34.0" height="5.7" fill="#b2b2fc"/>
<line x1="209.0" y1="277.18" x2="243.0" y2="277.18" stroke="#0000ff" stroke-width="1.4"/>
<line x1="209.0" y1="289.05" x2="243.0" y2="289.05" stroke="#00aa00" stroke-width="1.4"/>
<line x1="209.0" y1="300.92" x2="243.0" y2="300.92" stroke="#ff3300" stroke-width="1.4"/>
<line x1="209.0" y1="312.79" x2="243.0" y2="312.79" stroke="#000" stroke-width="1.4"/>
<rect x="48.8" y="30.9" width="426.7" height="293.1" fill="none" stroke="#4d4d4d" stroke-width="1.4"/>
<path d="M109.1,324.0 V319.7 M109.1,30.9 V35.2 M172.8,324.0 V319.7 M172.8,30.9 V35.2 M236.5,324.0 V319.7 M236.5,30.9 V35.2 M300.2,324.0 V319.7 M300.2,30.9 V35.2 M363.9,324.0 V319.7 M363.9,30.9 V35.2 M427.6,324.0 V319.7 M427.6,30.9 V35.2 M48.8,310.6 H53.1 M475.5,310.6 H471.2 M48.8,284.0 H53.1 M475.5,284.0 H471.2 M48.8,257.3 H53.1 M475.5,257.3 H471.2 M48.8,230.7 H53.1 M475.5,230.7 H471.2 M48.8,204.1 H53.1 M475.5,204.1 H471.2 M48.8,177.5 H53.1 M475.5,177.5 H471.2 M48.8,150.8 H53.1 M475.5,150.8 H471.2 M48.8,124.2 H53.1 M475.5,124.2 H471.2 M48.8,97.6 H53.1 M475.5,97.6 H471.2 M48.8,70.9 H53.1 M475.5,70.9 H471.2 M48.8,44.3 H53.1 M475.5,44.3 H471.2 " fill="none" stroke="#4d4d4d" stroke-width="1.2"/>
</svg>
<div class="tx">
<div class="yl" style="top:304.4px">0.95</div>
<div class="yl" style="top:277.8px">0.96</div>
<div class="yl" style="top:251.1px">0.97</div>
<div class="yl" style="top:224.5px">0.98</div>
<div class="yl" style="top:197.9px">0.99</div>
<div class="yl" style="top:171.3px">1.00</div>
<div class="yl" style="top:144.6px">1.01</div>
<div class="yl" style="top:118.0px">1.02</div>
<div class="yl" style="top:91.4px">1.03</div>
<div class="yl" style="top:64.7px">1.04</div>
<div class="yl" style="top:38.1px">1.05</div>
<div class="xl" style="left:90.8px">6.4</div>
<div class="xl" style="left:154.5px">6.6</div>
<div class="xl" style="left:218.2px">6.8</div>
<div class="xl" style="left:281.9px">7</div>
<div class="xl" style="left:345.6px">7.2</div>
<div class="xl" style="left:409.3px">7.4</div>
<div class="lg" style="top:221.3px">this study: <i>w</i><sub>0.4</sub></div>
<div class="lg" style="top:233.2px">Necco-Sommer data: <i>r</i><sub>0</sub></div>
<div class="lg" style="top:245.0px">: <i>r</i><sub>c</sub></div>
<div class="lg" style="top:256.9px">error of <i>w</i><sub>0.4</sub>/<i>r</i><sub>c</sub></div>
<div class="lg" style="top:270.1px">Edwards-Heller-Klassen</div>
<div class="lg" style="top:281.9px">ALPHA Coll.</div>
<div class="lg" style="top:293.8px">Necco-Sommer</div>
<div class="lg" style="top:305.7px">Durr-Fodor-Hoelbling-Kurth</div>
<div class="ti">(<i>w</i><sub>0.4</sub> / <i>a</i>) / (1-loop (3 param.))</div>
</div>
</body></html>
